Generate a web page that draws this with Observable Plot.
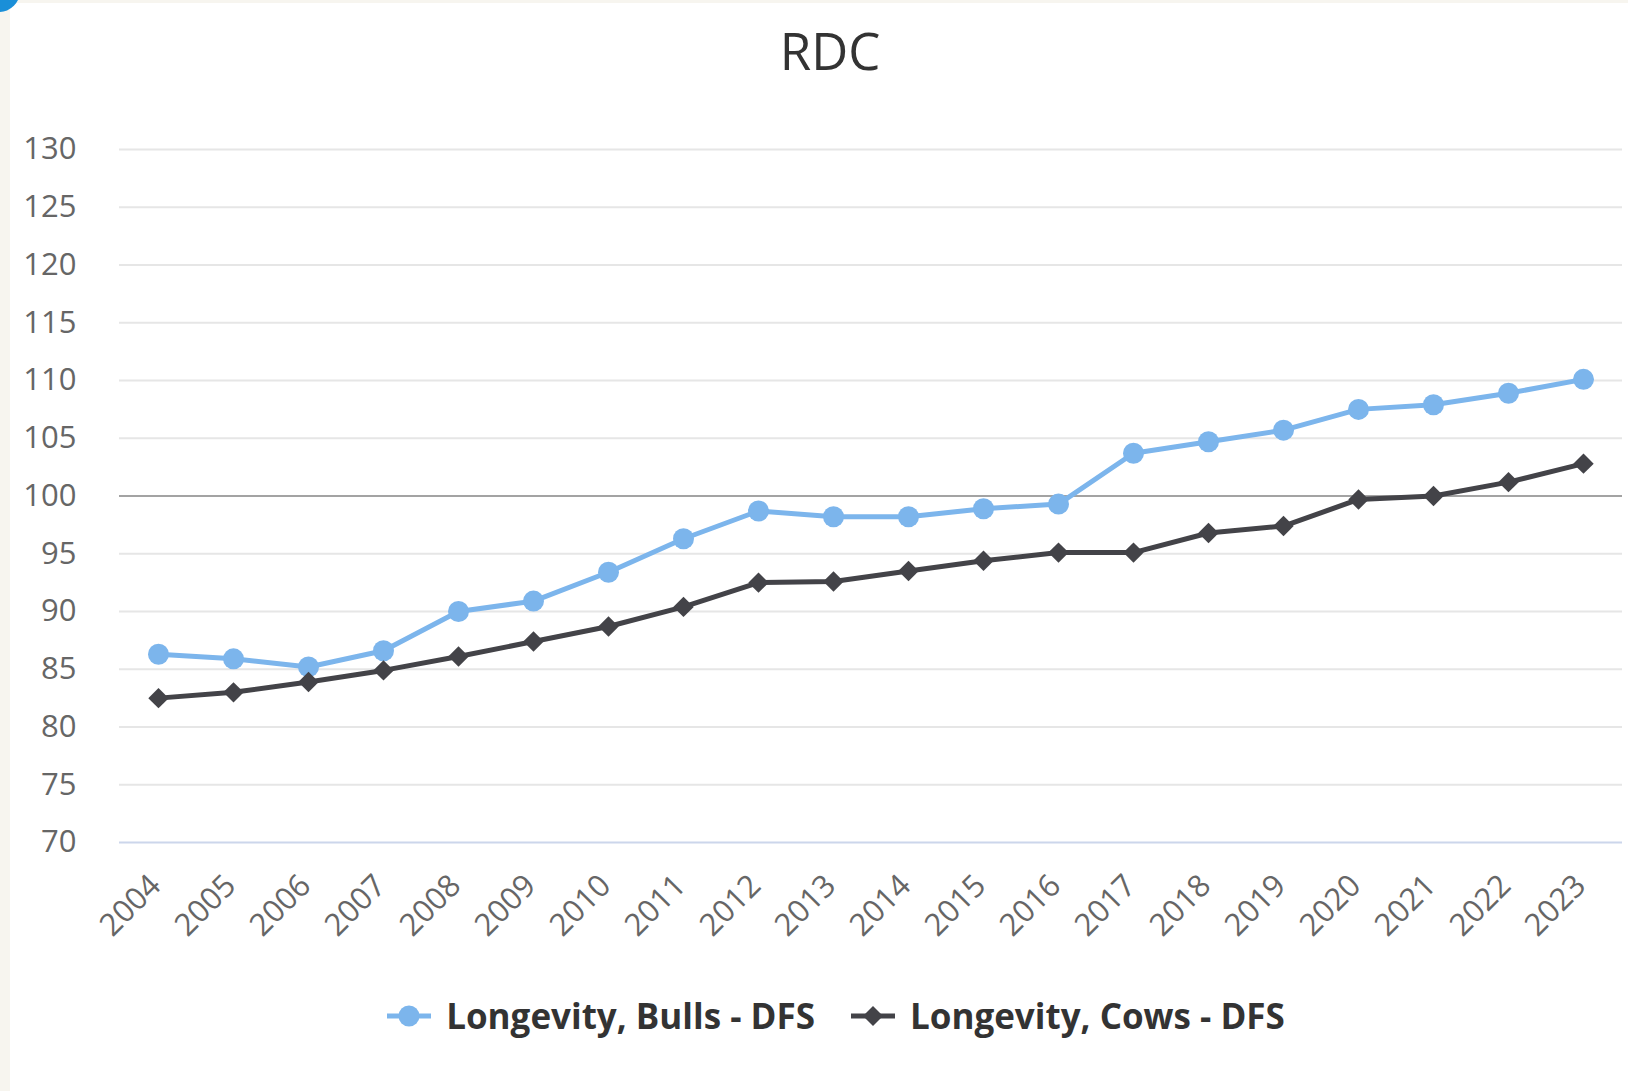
<!DOCTYPE html>
<html>
<head>
<meta charset="utf-8">
<script src="https://cdn.jsdelivr.net/npm/d3@7"></script>
<script src="https://cdn.jsdelivr.net/npm/@observablehq/plot@0.6"></script>
<style>
  html, body { margin: 0; padding: 0; background: #f7f5ef; }
  body { width: 1628px; height: 1091px; position: relative; overflow: hidden; font-family: "Open Sans", sans-serif; }
  #panel { position: absolute; left: 10px; top: 3px; right: 0; bottom: 0; background: #ffffff; }
  #corner { position: absolute; left: -22px; top: -30px; width: 42px; height: 42px; border-radius: 50%; background: #1a8fd8; }
  #chart { position: absolute; left: 0; top: 0; }
  #title { position: absolute; left: 0; width: 1660px; top: 25px; text-align: center; font-size: 51px; line-height: 51px; color: #333333; }
  #legend { position: absolute; left: 0; width: 1672px; top: 995px; height: 42px; display: flex; justify-content: center; align-items: center; }
  .item { display: flex; align-items: center; margin: 0 18px; }
  .item svg { margin-right: 15px; }
  .item span { font-size: 35px; font-weight: 700; color: #333333; line-height: 42px; }
</style>
</head>
<body>
<div id="panel"></div>
<div id="corner"></div>
<div id="chart"></div>
<div id="title">RDC</div>
<div id="legend"></div>
<script>
const years = ["2004","2005","2006","2007","2008","2009","2010","2011","2012","2013",
               "2014","2015","2016","2017","2018","2019","2020","2021","2022","2023"];
const bulls = [86.3, 85.9, 85.2, 86.6, 90.0, 90.9, 93.4, 96.3, 98.7, 98.2,
               98.2, 98.9, 99.3, 103.7, 104.7, 105.7, 107.5, 107.9, 108.9, 110.1];
const cows  = [82.5, 83.0, 83.9, 84.9, 86.1, 87.4, 88.7, 90.4, 92.5, 92.6,
               93.5, 94.4, 95.1, 95.1, 96.8, 97.4, 99.7, 100.0, 101.2, 102.8];
const seriesNames = ["Longevity, Bulls - DFS", "Longevity, Cows - DFS"];
const seriesColors = ["#7cb5ec", "#434348"];
const yTicks = [70, 75, 80, 85, 90, 95, 100, 105, 110, 115, 120, 125, 130];
const referenceValue = [100];

const bullsData = years.map((year, i) => ({year, value: bulls[i], series: seriesNames[0]}));
const cowsData = years.map((year, i) => ({year, value: cows[i], series: seriesNames[1]}));

const chart = Plot.plot({
  width: 1628,
  height: 960,
  marginLeft: 119,
  marginRight: 6,
  marginTop: 149,
  marginBottom: 118,
  style: { background: "transparent", fontFamily: "Open Sans, sans-serif", color: "#666666", overflow: "visible" },
  x: { type: "point", domain: years, padding: 0.47, label: null },
  y: { domain: [70, 130], label: null },
  marks: [
    Plot.gridY(yTicks.filter(v => v !== 70), { stroke: "#e6e6e6", strokeOpacity: 1, strokeWidth: 2 }),
    Plot.ruleY([yTicks[0]], { stroke: "#ccd6eb", strokeWidth: 2 }),
    Plot.ruleY(referenceValue, { stroke: "#8c8c8c", strokeWidth: 1.5 }),
    Plot.axisY(yTicks, { tickSize: 0, tickPadding: 43, fontSize: 31, fill: "#666666", label: null }),
    Plot.axisX(years, { tickSize: 0, tickRotate: -45, tickPadding: 38, dx: -3, fontSize: 31, fill: "#666666", label: null }),
    Plot.line(bullsData, { x: "year", y: "value", stroke: seriesColors[0], strokeWidth: 5 }),
    Plot.dot(bullsData, { x: "year", y: "value", r: 10.5, fill: seriesColors[0] }),
    Plot.line(cowsData, { x: "year", y: "value", stroke: seriesColors[1], strokeWidth: 5 }),
    Plot.dot(cowsData, { x: "year", y: "value", symbol: "diamond2", r: 9.2, fill: seriesColors[1] })
  ]
});
document.getElementById("chart").appendChild(chart);

const legend = document.getElementById("legend");
seriesNames.forEach((name, i) => {
  const item = document.createElement("div");
  item.className = "item";
  const marker = i === 0
    ? `<circle cx="22" cy="13" r="10.5" fill="${seriesColors[i]}"/>`
    : `<path d="M22 3 L32 13 L22 23 L12 13 Z" fill="${seriesColors[i]}"/>`;
  item.innerHTML = `<svg width="44" height="26" viewBox="0 0 44 26"><line x1="0" y1="13" x2="44" y2="13" stroke="${seriesColors[i]}" stroke-width="5"/>${marker}</svg><span>${name}</span>`;
  legend.appendChild(item);
});
</script>
</body>
</html>
